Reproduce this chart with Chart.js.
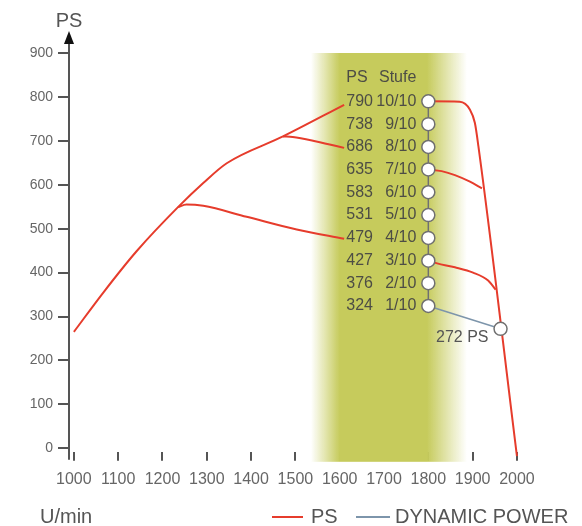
<!DOCTYPE html>
<html>
<head>
<meta charset="utf-8">
<script src="https://cdn.jsdelivr.net/npm/chart.js@4.4.0/dist/chart.umd.min.js"></script>
<style>
  html, body { margin: 0; padding: 0; background: #fff; }
  #wrap { width: 582px; height: 526px; }
</style>
</head>
<body>
<div id="wrap"><canvas id="chart"></canvas></div>
<script>
// axis ticks
const xTicks = [1000, 1100, 1200, 1300, 1400, 1500, 1600, 1700, 1800, 1900, 2000];
const yTicks = [0, 100, 200, 300, 400, 500, 600, 700, 800, 900];

// full-load curve up to 10/10
const mainRpm = [1000, 1066, 1141, 1235, 1292, 1345, 1472, 1610];
const mainPs  = [265, 354, 448, 549, 604, 649, 710, 782];
// branch to 8/10
const upperRpm = [1472, 1494, 1550, 1610];
const upperPs  = [710, 709, 698, 684];
// branch to 4/10
const lowerRpm = [1235, 1254, 1292, 1390, 1503, 1610];
const lowerPs  = [549, 555, 552, 527, 498, 477];

// governor side, from 10/10 down to 2000 U/min
const dropRpm = [1800, 1871, 1894, 1905, 1913, 2000];
const dropPs  = [790, 789, 771, 741, 688, -18];
// branch from 7/10
const b7Rpm = [1800, 1830, 1860, 1894, 1921];
const b7Ps  = [635, 631, 622, 607, 592];
// branch from 3/10
const b3Rpm = [1800, 1820, 1860, 1901, 1935, 1952];
const b3Ps  = [427, 421, 412, 400, 382, 361];

// power steps (Stufe)
const stepRpm = 1800;
const psLevels = [790, 738, 686, 635, 583, 531, 479, 427, 376, 324];
const stufeLabels = ['10/10', '9/10', '8/10', '7/10', '6/10', '5/10', '4/10', '3/10', '2/10', '1/10'];

// dynamic power line
const dynRpm = [1800, 1963];
const dynPs  = [324, 272];
const dynLabel = '272 PS';

// highlighted rpm band (fade-in, full, full, fade-out)
const bandRpm = [1535, 1600, 1797, 1887];

const RED = '#e63c2c';
const BLUE = '#7d95ab';
const GREY = '#707070';
const FONT = "'Liberation Sans', Arial, sans-serif";

const zip = (xs, ys) => xs.map((x, i) => ({ x, y: ys[i] }));

const redLine = (data) => ({
  label: 'PS',
  data,
  borderColor: RED,
  borderWidth: 2,
  pointRadius: 0,
  cubicInterpolationMode: 'monotone',
  fill: false,
});

const decor = {
  id: 'decor',
  beforeDatasetsDraw(chart) {
    const { ctx, chartArea, scales: { x, y } } = chart;
    const l = x.getPixelForValue(bandRpm[0]);
    const r = x.getPixelForValue(bandRpm[3]);
    const top = y.getPixelForValue(900);
    const bottom = chartArea.bottom + 10;
    const g = ctx.createLinearGradient(l, 0, r, 0);
    const w = r - l;
    g.addColorStop(0, 'rgba(198, 203, 92, 0)');
    g.addColorStop((x.getPixelForValue(bandRpm[1]) - l) / w, 'rgba(198, 203, 92, 1)');
    g.addColorStop((x.getPixelForValue(bandRpm[2]) - l) / w, 'rgba(198, 203, 92, 1)');
    g.addColorStop(1, 'rgba(198, 203, 92, 0)');
    ctx.save();
    ctx.fillStyle = g;
    ctx.fillRect(l, top, w, bottom - top);
    ctx.restore();
  },
  afterDraw(chart) {
    const { ctx, chartArea, scales: { x, y } } = chart;
    const ax = chartArea.left;
    ctx.save();

    // y axis with arrow
    ctx.strokeStyle = '#555';
    ctx.lineWidth = 2;
    ctx.beginPath();
    ctx.moveTo(ax, 42);
    ctx.lineTo(ax, chartArea.bottom + 8);
    ctx.stroke();
    ctx.fillStyle = '#111';
    ctx.beginPath();
    ctx.moveTo(ax, 31);
    ctx.lineTo(ax - 5, 44);
    ctx.lineTo(ax + 5, 44);
    ctx.closePath();
    ctx.fill();

    // axis titles
    ctx.fillStyle = '#555';
    ctx.font = '20px ' + FONT;
    ctx.textBaseline = 'middle';
    ctx.textAlign = 'center';
    ctx.fillText('PS', ax, 21);
    ctx.textAlign = 'left';
    ctx.fillText('U/min', 40, 517);

    // step labels
    const cx = x.getPixelForValue(stepRpm);
    ctx.font = '16px ' + FONT;
    ctx.fillStyle = '#4d4d45';
    const y0 = y.getPixelForValue(psLevels[0]);
    ctx.textAlign = 'left';
    ctx.fillText('PS', cx - 82, y0 - 24);
    ctx.textAlign = 'right';
    ctx.fillText('Stufe', cx - 12, y0 - 24);
    psLevels.forEach((v, i) => {
      const py = y.getPixelForValue(v);
      ctx.textAlign = 'left';
      ctx.fillText(String(v), cx - 82, py);
      ctx.textAlign = 'right';
      ctx.fillText(stufeLabels[i], cx - 12, py);
    });

    // 272 PS label
    ctx.fillStyle = '#555';
    ctx.textAlign = 'right';
    ctx.fillText(dynLabel, x.getPixelForValue(dynRpm[1]) - 12, y.getPixelForValue(dynPs[1]) + 9);

    // legend row
    const ly = 517;
    ctx.font = '20px ' + FONT;
    ctx.textAlign = 'left';
    ctx.lineWidth = 2;
    ctx.strokeStyle = RED;
    ctx.beginPath(); ctx.moveTo(272, ly); ctx.lineTo(303, ly); ctx.stroke();
    ctx.fillStyle = '#555';
    ctx.fillText('PS', 311, ly);
    ctx.strokeStyle = BLUE;
    ctx.beginPath(); ctx.moveTo(356, ly); ctx.lineTo(390, ly); ctx.stroke();
    ctx.fillText('DYNAMIC POWER', 395, ly);

    ctx.restore();
  },
};

new Chart(document.getElementById('chart'), {
  type: 'line',
  data: {
    datasets: [
      {
        label: 'Stufe',
        data: psLevels.map(v => ({ x: stepRpm, y: v })),
        showLine: true,
        borderColor: GREY,
        borderWidth: 1.5,
        pointRadius: 6.5,
        pointBackgroundColor: '#fff',
        pointBorderColor: GREY,
        pointBorderWidth: 1.5,
      },
      {
        label: 'DYNAMIC POWER',
        data: zip(dynRpm, dynPs),
        borderColor: BLUE,
        borderWidth: 1.5,
        pointRadius: [0, 6.5],
        pointBackgroundColor: '#fff',
        pointBorderColor: GREY,
        pointBorderWidth: 1.5,
      },
      redLine(zip(mainRpm, mainPs)),
      redLine(zip(upperRpm, upperPs)),
      redLine(zip(lowerRpm, lowerPs)),
      Object.assign(redLine(zip(dropRpm, dropPs)), { clip: false }),
      redLine(zip(b7Rpm, b7Ps)),
      redLine(zip(b3Rpm, b3Ps)),
    ],
  },
  options: {
    responsive: true,
    maintainAspectRatio: false,
    animation: false,
    layout: { padding: { top: 53, right: 15, bottom: 28, left: 0 } },
    plugins: {
      legend: { display: false },
      tooltip: { enabled: false },
    },
    scales: {
      x: {
        type: 'linear',
        min: 989,
        max: 2113,
        afterBuildTicks: s => { s.ticks = xTicks.map(v => ({ value: v })); },
        border: { display: false },
        grid: { drawOnChartArea: false, tickLength: 9, tickColor: '#555', lineWidth: 2 },
        ticks: {
          color: '#666',
          font: { family: FONT, size: 16 },
          padding: 9,
          maxRotation: 0,
          autoSkip: false,
          callback: v => String(v),
        },
      },
      y: {
        min: -8,
        max: 900,
        afterBuildTicks: s => { s.ticks = yTicks.map(v => ({ value: v })); },
        afterFit: s => { s.width = 69; },
        border: { display: false },
        grid: { drawOnChartArea: false, tickLength: 11, tickColor: '#555', lineWidth: 2 },
        ticks: {
          color: '#666',
          font: { family: FONT, size: 14 },
          padding: 5,
          callback: v => String(v),
        },
      },
    },
  },
  plugins: [decor],
});
</script>
</body>
</html>
